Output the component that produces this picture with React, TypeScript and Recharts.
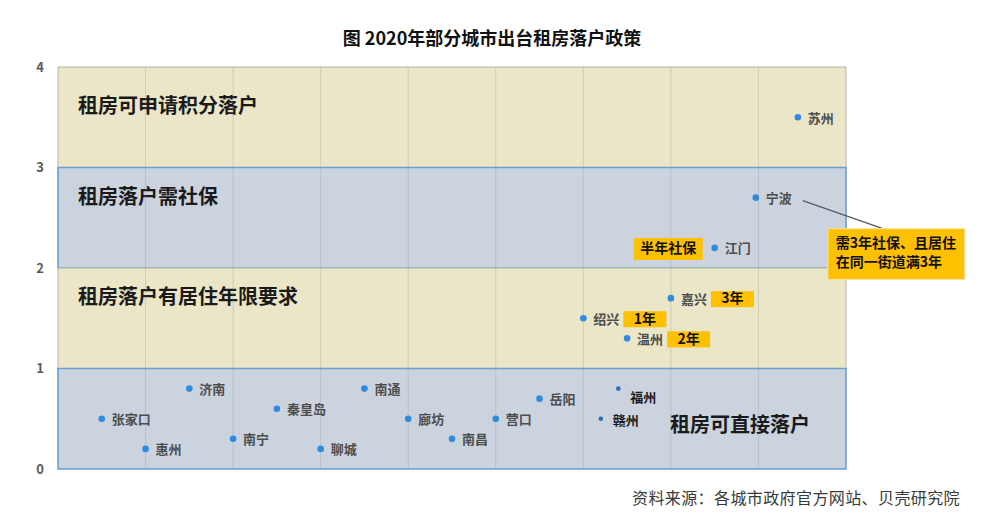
import React from 'react'
import { ScatterChart, Scatter, XAxis, YAxis, ReferenceArea, ReferenceLine } from 'recharts'

// cities and their positions
const cities = ['张家口', '惠州', '济南', '南宁', '秦皇岛', '聊城', '南通', '廊坊', '南昌', '营口', '岳阳', '福州', '赣州', '绍兴', '温州', '嘉兴', '江门', '宁波', '苏州']
const xValues = [0.5, 1, 1.5, 2, 2.5, 3, 3.5, 4, 4.5, 5, 5.5, 6.4, 6.2, 6, 6.5, 7, 7.5, 7.97, 8.45]
const yValues = [0.5, 0.2, 0.8, 0.3, 0.6, 0.2, 0.8, 0.5, 0.3, 0.5, 0.7, 0.8, 0.5, 1.5, 1.3, 1.7, 2.2, 2.7, 3.5]

// yellow tags next to some cities
const tagCities = ['江门', '嘉兴', '绍兴', '温州']
const tagTexts = ['半年社保', '3年', '1年', '2年']
const noteCity = '宁波'
const noteLines = ['需3年社保、且居住', '在同一街道满3年']

// background bands
const bandFrom = [3, 2, 1, 0]
const bandTo = [4, 3, 2, 1]
const bandTitles = ['租房可申请积分落户', '租房落户需社保', '租房落户有居住年限要求', '租房可直接落户']

const yTicks = [0, 1, 2, 3, 4]
const gridX = [1, 2, 3, 4, 5, 6, 7, 8]

const title = '图 2020年部分城市出台租房落户政策'
const source = '资料来源：各城市政府官方网站、贝壳研究院'

const FONT = '"Noto Sans CJK SC", "Noto Sans", sans-serif'
const BLUE_BAND = '#cbd3df'
const BEIGE_BAND = '#eae6c7'
const YELLOW = '#ffc000'

const data = cities.map((name, i) => {
  const t = tagCities.indexOf(name)
  return { name, x: xValues[i], y: yValues[i], tag: t >= 0 ? tagTexts[t] : null, note: name === noteCity ? noteLines : null }
})

const darkCities = ['福州', '赣州']

const CityDot = (props: any) => {
  const { cx, cy, payload } = props
  if (cx == null || cy == null) return null
  const dark = darkCities.includes(payload.name)
  const labelDy = payload.name === '福州' ? 10 : dark ? 3 : 2
  const labelDx = dark ? 12 : 10
  return (
    <g>
      <circle cx={cx} cy={cy} r={dark ? 2.3 : 3.3} fill={dark ? '#2b6cb8' : '#2f8be0'} />
      <text x={cx + labelDx} y={cy + labelDy} dominantBaseline="middle" fontFamily={FONT} fontSize={13} fontWeight="bold" fill={dark ? '#1a1a1a' : '#4d4d4d'}>
        {payload.name}
      </text>
      {payload.tag && payload.name === '江门' && (
        <g>
          <rect x={cx - 81} y={cy - 10} width={69} height={22} fill={YELLOW} />
          <text x={cx - 46.5} y={cy + 1} textAnchor="middle" dominantBaseline="middle" fontFamily={FONT} fontSize={14} fontWeight="bold" fill="#111">
            {payload.tag}
          </text>
        </g>
      )}
      {payload.tag && payload.name !== '江门' && (
        <g>
          <rect x={cx + 40} y={cy - 7} width={43} height={16} fill={YELLOW} />
          <text x={cx + 61.5} y={cy + 1.5} textAnchor="middle" dominantBaseline="middle" fontFamily={FONT} fontSize={14} fontWeight="bold" fill="#111">
            {payload.tag}
          </text>
        </g>
      )}
      {payload.note && (
        <g>
          <line x1={cx + 47} x2={cx + 127} y1={cy + 3} y2={cy + 31} stroke="#595959" strokeWidth={1.2} />
          <rect x={cx + 72} y={cy + 31} width={137} height={51} fill={YELLOW} stroke="#f3e3b0" strokeWidth={1} />
          {payload.note.map((line: string, i: number) => (
            <text key={i} x={cx + 80} y={cy + 47 + i * 19} dominantBaseline="middle" fontFamily={FONT} fontSize={14} fontWeight="bold" fill="#111">
              {line}
            </text>
          ))}
        </g>
      )}
    </g>
  )
}

const bandLabelPos = [
  { dx: 20, dy: 41 },
  { dx: 20, dy: 31 },
  { dx: 20, dy: 31 },
  { dx: 612, dy: 58 },
]

const BandLabel = (idx: number) => (props: any) => {
  const vb = props.viewBox
  if (!vb) return null
  const p = bandLabelPos[idx]
  return (
    <text x={vb.x + p.dx} y={vb.y + p.dy} dominantBaseline="middle" fontFamily={FONT} fontSize={20} fontWeight="bold" fill="#1a1a1a">
      {bandTitles[idx]}
    </text>
  )
}

export default function App() {
  return (
    <div style={{ position: 'absolute', left: 0, top: 0, width: 1000, height: 521, background: '#fff', fontFamily: FONT }}>
      <div style={{ position: 'absolute', left: -8, width: 1000, top: 24, textAlign: 'center', fontSize: 18, fontWeight: 'bold', color: '#111' }}>
        {title}
      </div>
      <ScatterChart width={1000} height={521} margin={{ top: 67, right: 154, bottom: 52, left: 18 }}>
        <XAxis type="number" dataKey="x" domain={[0, 9]} ticks={[0, 1, 2, 3, 4, 5, 6, 7, 8, 9]} height={0} tick={false} axisLine={false} tickLine={false} />
        <YAxis
          type="number"
          dataKey="y"
          domain={[0, 4]}
          ticks={yTicks}
          width={40}
          axisLine={false}
          tickLine={false}
          tickSize={0}
          tickMargin={14}
          tick={{ fill: '#595959', fontSize: 13, fontWeight: 'bold', fontFamily: FONT }}
        />
        {bandFrom.map((from, i) => (
          <ReferenceArea
            key={i}
            y1={from}
            y2={bandTo[i]}
            x1={0}
            x2={9}
            fill={i % 2 === 0 ? BEIGE_BAND : BLUE_BAND}
            fillOpacity={1}
            stroke={i % 2 === 0 ? '#b5b5a8' : '#6a9fd4'}
            strokeWidth={i % 2 === 0 ? 1 : 1.6}
            label={BandLabel(i)}
          />
        ))}
        {gridX.map((x) => (
          <ReferenceLine key={x} x={x} stroke="#8c949e" strokeOpacity={0.3} strokeWidth={1} />
        ))}
        <Scatter data={data} shape={CityDot} isAnimationActive={false} />
      </ScatterChart>
      <div style={{ position: 'absolute', left: 632, top: 485, fontSize: 16, letterSpacing: 0.4, color: '#3a3a3a', whiteSpace: 'nowrap' }}>
        {source}
      </div>
    </div>
  )
}
